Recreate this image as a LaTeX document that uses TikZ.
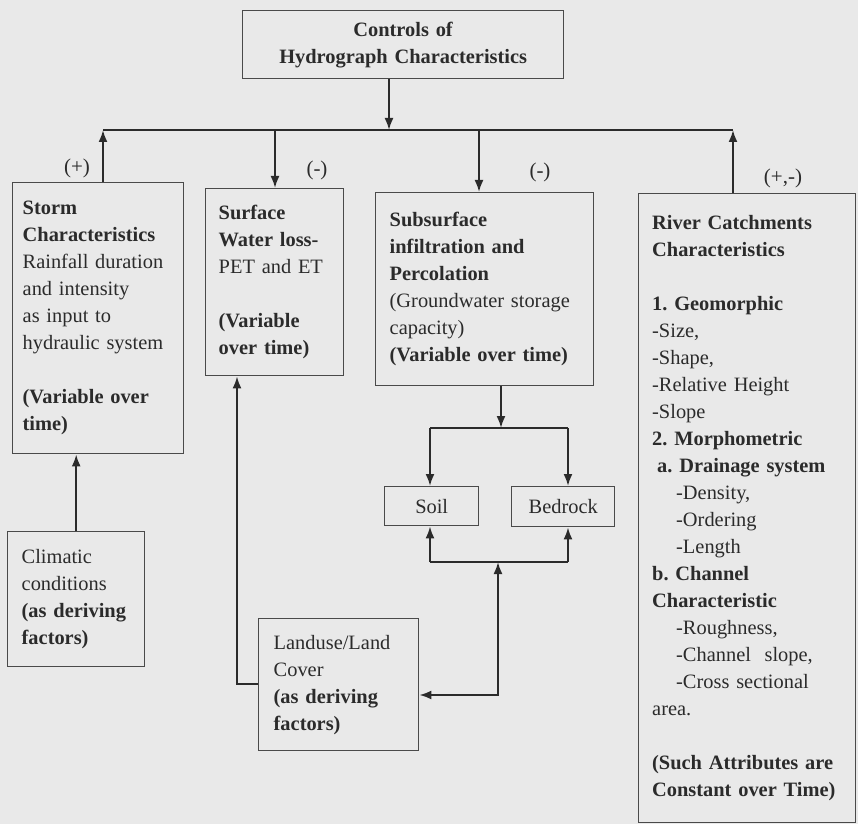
\documentclass[tikz,border=0pt]{standalone}
\usepackage{fontspec}
\setmainfont{Liberation Serif}
\usetikzlibrary{arrows.meta}
\definecolor{paper}{HTML}{E9E9E9}
\definecolor{ink}{HTML}{2B2B2B}
\definecolor{rule}{HTML}{4A4A4A}
\tikzset{
  hbox/.style={draw=rule, line width=0.7pt, anchor=north west, align=left,
    inner xsep=7.5pt, inner ysep=0pt, text=ink,
    font=\fontsize{10.2}{13.5}\selectfont},
  sbox/.style={hbox, align=center, inner xsep=0pt},
  sign/.style={text=ink, font=\fontsize{10.5}{13}\selectfont},
  link/.style={draw=ink, line width=1pt},
}
\begin{document}
\begin{tikzpicture}[x=0.5pt,y=-0.5pt,>={Latex[length=6pt,width=4.5pt]}]
			\fill[paper] (0,0) rectangle (858,824);
			\useasboundingbox (0,0) rectangle (858,824);
			% boxes
			\node (Ct) at (242,10) [hbox, align=center, text width=145.5pt, minimum width=160.5pt, minimum height=34pt] {\textbf{Controls of}\\\textbf{Hydrograph Characteristics}};
			\node (St) at (12,182) [hbox, inner xsep=5pt, text width=75.5pt, minimum width=85.5pt, minimum height=135.5pt] {\textbf{Storm}\\\textbf{Characteristics}\\Rainfall duration\\and intensity\\as input to\\hydraulic system\\[13.5pt]\textbf{(Variable over}\\\textbf{time)}};
			\node (Su) at (205,188) [hbox, inner xsep=6.5pt, text width=56pt, minimum width=69pt, minimum height=93.5pt] {\textbf{Surface}\\\textbf{Water loss-}\\PET and ET\\[13.5pt]\textbf{(Variable}\\\textbf{over time)}};
			\node (Sb) at (375,192) [hbox, inner xsep=7pt, text width=95pt, minimum width=109pt, minimum height=96.5pt] {\textbf{Subsurface}\\\textbf{infiltration and}\\\textbf{Percolation}\\(Groundwater storage\\capacity)\\\textbf{(Variable over time)}};
			\node (Ri) at (638,193) [hbox, inner xsep=6.75pt, text width=95pt, minimum width=108.5pt, minimum height=314.5pt] {\textbf{River Catchments}\\\textbf{Characteristics}\\[13.5pt]\textbf{1.\ Geomorphic}\\-Size,\\-Shape,\\-Relative Height\\-Slope\\\textbf{2.\ Morphometric}\\\hspace*{2.5pt}\textbf{a.\ Drainage system}\\\hspace*{12pt}-Density,\\\hspace*{12pt}-Ordering\\\hspace*{12pt}-Length\\\textbf{b.\ Channel}\\\textbf{Characteristic}\\\hspace*{12pt}-Roughness,\\\hspace*{12pt}-Channel\ \ slope,\\\hspace*{12pt}-Cross sectional\\area.\\[13.5pt]\textbf{(Such Attributes are}\\\textbf{Constant over Time)}};
			\node (Cl) at (7,531) [hbox, inner xsep=7pt, text width=54.5pt, minimum width=68.5pt, minimum height=67.5pt] {Climatic\\conditions\\\textbf{(as deriving}\\\textbf{factors)}};
			\node (Lu) at (258,618) [hbox, text width=65pt, minimum width=80pt, minimum height=66pt] {Landuse/Land\\Cover\\\textbf{(as deriving}\\\textbf{factors)}};
			\node (So) at (384,486) [sbox, minimum width=47pt, minimum height=19.5pt] {Soil};
			\node (Be) at (511,486) [sbox, minimum width=51.5pt, minimum height=20pt] {Bedrock};
			% signs
			\node (pSt) at (77,168) [sign] {(+)};
			\node (mSu) at (317,170) [sign] {(-)};
			\node (mSb) at (540,172) [sign] {(-)};
			\node (pmRi) at (783,178) [sign] {(+,-)};
			% bus under the controls box
			\coordinate (bSt) at (103,130);
			\coordinate (bJn) at (389,130);
			\coordinate (bSu) at (275,130);
			\coordinate (bSb) at (479,130);
			\coordinate (bRi) at (733,130);
			\draw[link] (bSt) -- (bRi);
			\draw[link,->] (bJn |- Ct.south) -- (bJn);
			\draw[link,->] (bSt |- St.north) -- (bSt);
			\draw[link,->] (bSu) -- (bSu |- Su.north);
			\draw[link,->] (bSb) -- (bSb |- Sb.north);
			\draw[link,->] (bRi |- Ri.north) -- (bRi);
			% deriving factors
			\draw[link,->] (Cl.north) -- (Cl.north |- St.south);
			\coordinate (lk) at (237,684);
			\draw[link,->] (Lu.west |- lk) -- (lk) -- (lk |- Su.south);
			% soil and bedrock
			\coordinate (sbJ) at (501,428);
			\coordinate (soT) at (430,428);
			\coordinate (beT) at (568,428);
			\draw[link,->] (sbJ |- Sb.south) -- (sbJ);
			\draw[link] (soT) -- (beT);
			\draw[link,->] (soT) -- (soT |- So.north);
			\draw[link,->] (beT) -- (beT |- Be.north);
			\coordinate (soB) at (430,562);
			\coordinate (beB) at (568,562);
			\coordinate (luJ) at (498,695);
			\draw[link] (soB) -- (beB);
			\draw[link,->] (soB) -- (soB |- So.south);
			\draw[link,->] (beB) -- (beB |- Be.south);
			\draw[link,<->] (luJ -| Lu.east) -- (luJ) -- (luJ |- soB);
		\end{tikzpicture}
\end{document}
